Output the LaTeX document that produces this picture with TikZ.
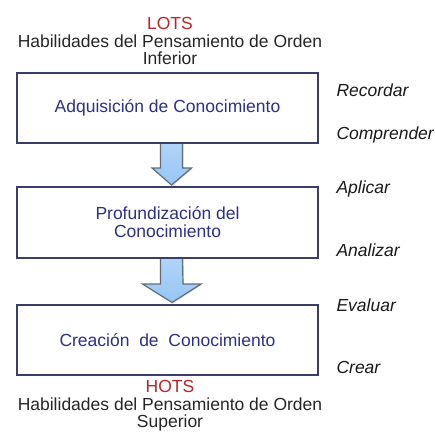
\documentclass[tikz,border=0pt]{standalone}
\usepackage{fontspec}
\setmainfont{Liberation Sans}
\usetikzlibrary{positioning, calc, shadows}
\definecolor{boxline}{RGB}{60, 62, 105}
\definecolor{boxtext}{RGB}{45, 48, 135}
\definecolor{otsred}{RGB}{190, 35, 40}
\definecolor{arrowfill}{RGB}{150, 198, 245}
\definecolor{arrowline}{RGB}{100, 108, 122}
\tikzset{
  stage/.style={rectangle, draw=boxline, line width=1.1pt, fill=white, minimum width=301pt,
    minimum height=70pt, align=center, text=boxtext, font=\fontsize{17.5}{18}\selectfont},
  level/.style={align=center, text=black!85, font=\fontsize{17.5}{17.5}\selectfont},
  skill/.style={anchor=west, font=\fontsize{17.5}{18}\selectfont\itshape, text=black!90},
  blockarrow/.style={draw=arrowline, line width=1.2pt, top color=arrowfill!75!white,
    bottom color=arrowfill, line join=miter,
    drop shadow={opacity=0.25, shadow xshift=1pt, shadow yshift=-1pt}},
}
\begin{document}
\begin{tikzpicture}[x=1pt, y=-1pt]
    \useasboundingbox (0,0) rectangle (435,434);
    % levels
    \node[level] (lots) at (170,41) {\textcolor{otsred}{LOTS}\\Habilidades del Pensamiento de Orden\\Inferior};
    % arrows
    \coordinate (a1) at (171.5,143);
    \coordinate (a2) at (171.5,258);
    \draw[blockarrow] ([xshift=-11pt]a1) -- ++(0,25) -- ++(-8.5,0) -- (171.5,185)
      -- ++(20,-17) -- ++(-9,0) -- ([xshift=11pt]a1) -- cycle;
    \draw[blockarrow] ([xshift=-11pt]a2) -- ++(0,26) -- ++(-18,0) -- (172,302.5)
      -- ++(29,-18.5) -- ++(-18,0) -- ([xshift=11pt]a2) -- cycle;
    % stages
    \node[stage] (adq) at (167.5,108) {Adquisición de Conocimiento};
    \node[stage, minimum height=71pt] (prof) at (167.5,222.5) {Profundización del\\Conocimiento};
    \node[stage] (crea) at (167.5,340) {Creación~~de~~Conocimiento};
    \node[level] (hots) at (170,406) {\textcolor{otsred}{HOTS}\\Habilidades del Pensamiento de Orden\\Superior};
    % skills
    \node[skill] (rec) at (333,90) {Recordar};
    \node[skill] (comp) at (333,135) {Comprender};
    \node[skill] (apl) at (333,189) {Aplicar};
    \node[skill] (ana) at (333,250) {Analizar};
    \node[skill] (eva) at (333,305) {Evaluar};
    \node[skill] (cre) at (333,367) {Crear};
\end{tikzpicture}
\end{document}
